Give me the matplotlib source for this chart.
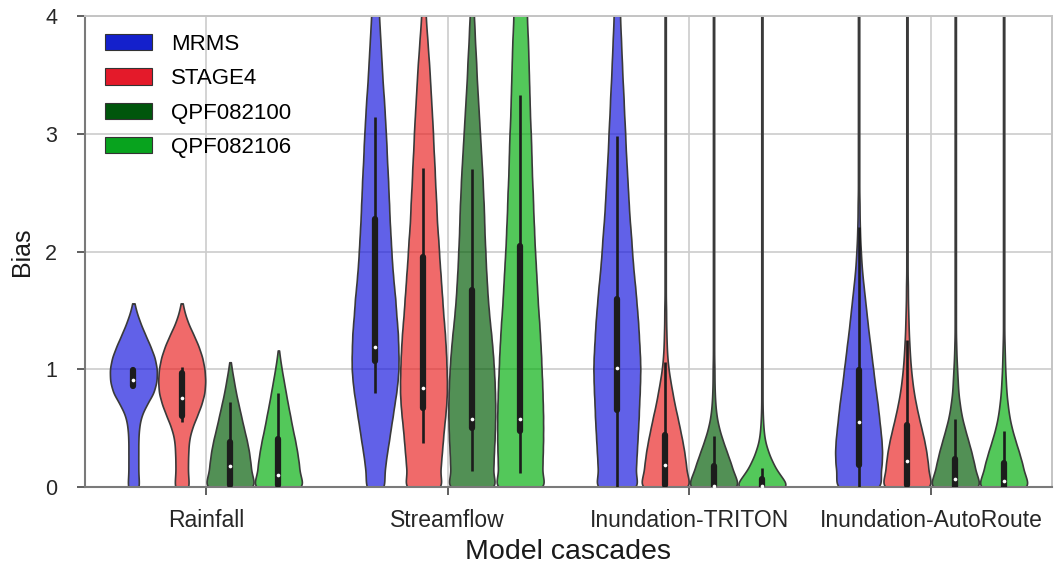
import numpy as np
import matplotlib
matplotlib.use("Agg")
import matplotlib.pyplot as plt
from matplotlib.patches import Patch

plt.rcParams['font.family'] = ['Liberation Sans', 'DejaVu Sans']

# ---------------- data ----------------
cascades = ["Rainfall", "Streamflow", "Inundation-TRITON", "Inundation-AutoRoute"]
sources = ["MRMS", "STAGE4", "QPF082100", "QPF082106"]

# bias bins (bin centres) of the frequency tables below
bias_bins = [0.0, 0.1, 0.2, 0.3, 0.4, 0.5, 0.6, 0.7, 0.8, 0.9,
             1.0, 1.1, 1.2, 1.3, 1.4, 1.5, 1.6, 1.7, 1.8, 1.9,
             2.0, 2.1, 2.2, 2.3, 2.4, 2.5, 2.6, 2.7, 2.8, 2.9,
             3.0, 3.1, 3.2, 3.3, 3.4, 3.5, 3.6, 3.7, 3.8, 3.9,
             4.0, 4.1, 4.2]

# relative frequencies per bias bin (starting at bin 0.0)
rain_mrms = [19, 15, 15, 15, 15, 17, 23, 40, 62, 71, 72, 65, 51, 35, 20, 8]
rain_stage4 = [24, 19, 19, 20, 22, 31, 46, 60, 70, 72, 70, 63, 51, 35, 18, 7]
rain_qpf00 = [92, 74, 70, 65, 57, 47, 38, 29, 20, 13, 6]
rain_qpf06 = [91, 72, 69, 63, 56, 47, 40, 32, 25, 18, 11, 5]

flow_mrms = [30, 28, 32, 37, 43, 48, 54, 59, 65, 69, 72, 72, 71, 70, 67, 64, 62, 58, 55, 52,
             50, 48, 46, 44, 43, 41, 40, 38, 36, 35, 33, 31, 29, 27, 24, 22, 20, 18, 16, 14,
             12, 11, 10]
flow_stage4 = [60, 50, 53, 56, 59, 62, 66, 69, 71, 71, 70, 69, 67, 65, 62, 59, 57, 54, 52, 49,
               47, 45, 42, 40, 39, 37, 35, 34, 32, 30, 29, 27, 25, 23, 21, 19, 17, 14, 12, 9,
               7, 5, 4]
flow_qpf00 = [76, 62, 64, 65, 67, 68, 69, 69, 68, 67, 65, 63, 60, 57, 53, 50, 47, 45, 43, 41,
              40, 38, 37, 36, 35, 33, 32, 30, 28, 26, 24, 22, 20, 18, 16, 14, 13, 11, 9, 8,
              6, 5, 4]
flow_qpf06 = [82, 68, 69, 70, 71, 71, 71, 70, 69, 68, 66, 65, 63, 61, 59, 56, 54, 52, 50, 48,
              46, 44, 43, 41, 40, 39, 37, 36, 35, 34, 33, 31, 30, 29, 28, 27, 26, 25, 24, 22,
              21, 20, 19]

triton_mrms = [70, 58, 60, 62, 64, 66, 68, 69, 71, 72, 73, 72, 70, 68, 66, 63, 60, 57, 53, 50,
               47, 45, 42, 39, 37, 35, 33, 31, 29, 27, 26, 24, 22, 21, 19, 17, 16, 14, 13, 11,
               10, 9, 8]
triton_stage4 = [88, 72, 68, 63, 56, 48, 40, 31, 24, 17, 11, 7, 5, 4, 3, 3, 2, 2, 2, 2,
                 2, 2, 2, 2, 2, 2, 2, 2, 2, 2, 2, 2, 2, 2, 2, 2, 2, 2, 2, 2,
                 2, 2, 2]
triton_qpf00 = [92, 70, 58, 44, 30, 18, 10, 6, 4, 3, 3, 2, 2, 2, 2, 2, 2, 2, 2, 2,
                2, 2, 2, 2, 2, 2, 2, 2, 2, 2, 2, 2, 2, 2, 2, 2, 2, 2, 2, 2,
                2, 2, 2]
triton_qpf06 = [95, 58, 36, 20, 9, 5, 3, 2, 2, 2, 2, 2, 2, 2, 2, 2, 2, 2, 2, 2,
                2, 2, 2, 2, 2, 2, 2, 2, 2, 2, 2, 2, 2, 2, 2, 2, 2, 2, 2, 2,
                2, 2, 2]

auto_mrms = [75, 68, 73, 74, 72, 68, 64, 60, 55, 50, 46, 41, 37, 32, 28, 24, 20, 16, 12, 9,
             7, 5, 4, 3, 3, 2, 2, 2, 2, 2, 2, 2, 2, 2, 2, 2, 2, 2, 2, 2,
             2, 2, 2]
auto_stage4 = [85, 70, 67, 62, 55, 46, 37, 29, 22, 17, 13, 10, 8, 6, 5, 4, 3, 3, 2, 2,
               2, 2, 2, 2, 2, 2, 2, 2, 2, 2, 2, 2, 2, 2, 2, 2, 2, 2, 2, 2,
               2, 2, 2]
auto_qpf00 = [90, 70, 62, 53, 42, 31, 21, 15, 10, 8, 6, 4, 3, 2, 2, 2, 2, 2, 2, 2,
              2, 2, 2, 2, 2, 2, 2, 2, 2, 2, 2, 2, 2, 2, 2, 2, 2, 2, 2, 2,
              2, 2, 2]
auto_qpf06 = [88, 68, 60, 49, 37, 26, 18, 13, 9, 7, 5, 4, 3, 2, 2, 2, 2, 2, 2, 2,
              2, 2, 2, 2, 2, 2, 2, 2, 2, 2, 2, 2, 2, 2, 2, 2, 2, 2, 2, 2,
              2, 2, 2]

freq_tables = [
    [rain_mrms, rain_stage4, rain_qpf00, rain_qpf06],
    [flow_mrms, flow_stage4, flow_qpf00, flow_qpf06],
    [triton_mrms, triton_stage4, triton_qpf00, triton_qpf06],
    [auto_mrms, auto_stage4, auto_qpf00, auto_qpf06],
]

# box summary (rows: cascades, cols: sources)
whisk_lo = [[0.85, 0.55, 0.00, 0.00], [0.80, 0.37, 0.14, 0.12],
            [0.00, 0.00, 0.00, 0.00], [0.00, 0.00, 0.00, 0.00]]
quart1 = [[0.86, 0.60, 0.02, 0.02], [1.07, 0.67, 0.50, 0.48],
          [0.65, 0.02, 0.00, 0.00], [0.19, 0.02, 0.00, 0.00]]
medians = [[0.91, 0.76, 0.18, 0.10], [1.19, 0.84, 0.58, 0.58],
           [1.01, 0.19, 0.01, 0.01], [0.55, 0.22, 0.07, 0.05]]
quart3 = [[0.99, 0.97, 0.38, 0.41], [2.28, 1.95, 1.67, 2.05],
          [1.60, 0.44, 0.18, 0.07], [0.99, 0.53, 0.24, 0.20]]
whisk_hi = [[0.99, 1.02, 0.72, 0.80], [3.14, 2.71, 2.70, 3.33],
            [2.98, 1.06, 0.43, 0.16], [2.21, 1.25, 0.58, 0.48]]

# ---------------- style ----------------
base_colors = ["#1420cc", "#e41a2a", "#00560c", "#08a31e"]
fill_colors = ["#1616de", "#ea2424", "#005c04", "#02ae0c"]
fill_alpha = 0.68
offsets = [-0.3, -0.1, 0.1, 0.3]
bw = 0.06
cut = 0.06

fig = plt.figure(figsize=(10.56, 5.75), dpi=100)
ax = fig.add_axes([0.0805, 0.153, 0.9157, 0.819])

bins = np.array(bias_bins)
for i, cas in enumerate(cascades):
    stats_list, pos_list = [], []
    for j, src in enumerate(sources):
        cnt = np.array(freq_tables[i][j], dtype=float)
        lv = bins[:len(cnt)]
        coords = np.linspace(lv[0], lv[-1] + cut, 500)
        dens = (cnt[None, :] * np.exp(-0.5 * ((coords[:, None] - lv[None, :]) / bw) ** 2)).sum(axis=1)
        stats_list.append(dict(coords=coords, vals=dens, mean=medians[i][j],
                               median=medians[i][j], min=coords[0], max=coords[-1]))
        pos_list.append(i + offsets[j])
    parts = ax.violin(stats_list, positions=pos_list, widths=0.194,
                      showmeans=False, showextrema=False, showmedians=False)
    for j, body in enumerate(parts['bodies']):
        body.set_alpha(None)
        body.set_facecolor(matplotlib.colors.to_rgba(fill_colors[j], fill_alpha))
        body.set_edgecolor('#3a3a3a')
        body.set_linewidth(1.2)
        body.set_zorder(2)
    for j in range(4):
        p = pos_list[j]
        ax.plot([p, p], [whisk_lo[i][j], whisk_hi[i][j]], color='#1c1c1c', lw=1.9,
                solid_capstyle='butt', zorder=3)
        ax.plot([p, p], [quart1[i][j], quart3[i][j]], color='#1c1c1c', lw=4.5,
                solid_capstyle='round', zorder=3)
        ax.scatter([p], [medians[i][j]], s=7, color='white', linewidths=0, zorder=4)

ax.set_xlim(-0.5, 3.5)
ax.set_ylim(0, 4)
ax.set_xticks(range(len(cascades)))
ax.set_xticklabels(cascades, fontsize=16.5, color='#262626')
ax.set_yticks([0, 1, 2, 3, 4])
ax.set_yticklabels(['0', '1', '2', '3', '4'], fontsize=15.5, color='#262626')
ax.tick_params(axis='both', length=6, width=1.2, color='#444444', direction='out')
ax.tick_params(axis='y', pad=14)
ax.tick_params(axis='x', pad=10)
ax.grid(True, color='#cccccc', lw=1.2)
ax.set_axisbelow(True)
for side in ['left', 'bottom']:
    ax.spines[side].set_color('#7a7a7a')
    ax.spines[side].set_linewidth(1.5)
for side in ['top', 'right']:
    ax.spines[side].set_color('#c4c4c4')
    ax.spines[side].set_linewidth(1.4)

ax.set_xlabel("Model cascades", fontsize=20.5, color='#1a1a1a', labelpad=5)
ax.set_ylabel("Bias", fontsize=18, color='#1a1a1a', labelpad=8)

handles = [Patch(facecolor=c, edgecolor='#333333', linewidth=0.8, label=s)
           for c, s in zip(base_colors, sources)]
ax.legend(handles=handles, loc='upper left', bbox_to_anchor=(0.021, 0.962),
          frameon=False, fontsize=16, handlelength=2.1, handleheight=0.75,
          labelspacing=0.6, handletextpad=0.85, borderaxespad=0, borderpad=0)

fig.savefig("out.png", dpi=100)
